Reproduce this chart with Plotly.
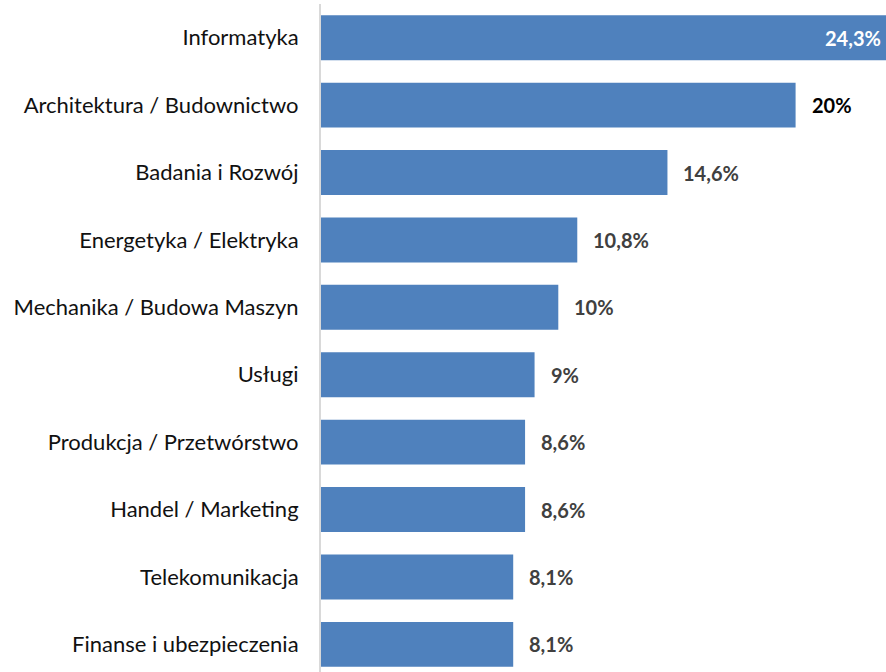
import plotly.graph_objects as go

categories = ["Informatyka", "Architektura / Budownictwo", "Badania i Rozwój",
              "Energetyka / Elektryka", "Mechanika / Budowa Maszyn", "Usługi",
              "Produkcja / Przetwórstwo", "Handel / Marketing", "Telekomunikacja",
              "Finanse i ubezpieczenia"]
values = [24.3, 20, 14.6, 10.8, 10, 9, 8.6, 8.6, 8.1, 8.1]
label_colors = ["#ffffff", "#000000", "#404040", "#404040", "#404040", "#404040",
                "#404040", "#404040", "#404040", "#404040"]

XMAX = 23.81

def fmt(v):
    s = ("%g" % v).replace(".", ",")
    return s + "%"

fig = go.Figure(go.Bar(
    x=values, y=categories, orientation="h",
    marker=dict(color="#4F81BD", line=dict(width=0)),
    width=0.667,
))

for i, (c, v) in enumerate(zip(categories, values)):
    if v > XMAX:
        fig.add_annotation(x=XMAX, y=c, text="<b>%s</b>" % fmt(v), showarrow=False,
                           xanchor="right", xshift=-3,
                           font=dict(family="Lato, sans-serif", size=20, color=label_colors[i]))
    else:
        fig.add_annotation(x=v, y=c, text="<b>%s</b>" % fmt(v), showarrow=False,
                           xanchor="left", xshift=14,
                           font=dict(family="Lato, sans-serif", size=20, color=label_colors[i]))

fig.update_layout(
    width=886, height=672,
    margin=dict(l=321, r=0, t=4, b=0),
    plot_bgcolor="white", paper_bgcolor="white",
    showlegend=False,
    font=dict(family="Lato, sans-serif", size=22, color="#000000"),
)
fig.update_xaxes(range=[0, XMAX], visible=False, showgrid=False)
fig.update_yaxes(type="category", range=[9.41, -0.5], showgrid=False, zeroline=False,
                 showline=True, linecolor="#d9d9d9", linewidth=2, ticks="",
                 ticklabelstandoff=16, tickfont=dict(size=22, color="#111111"))

fig.write_html("out.html", config={"displayModeBar": False},
               post_script="document.body.style.margin='0';document.body.style.overflow='hidden';")
